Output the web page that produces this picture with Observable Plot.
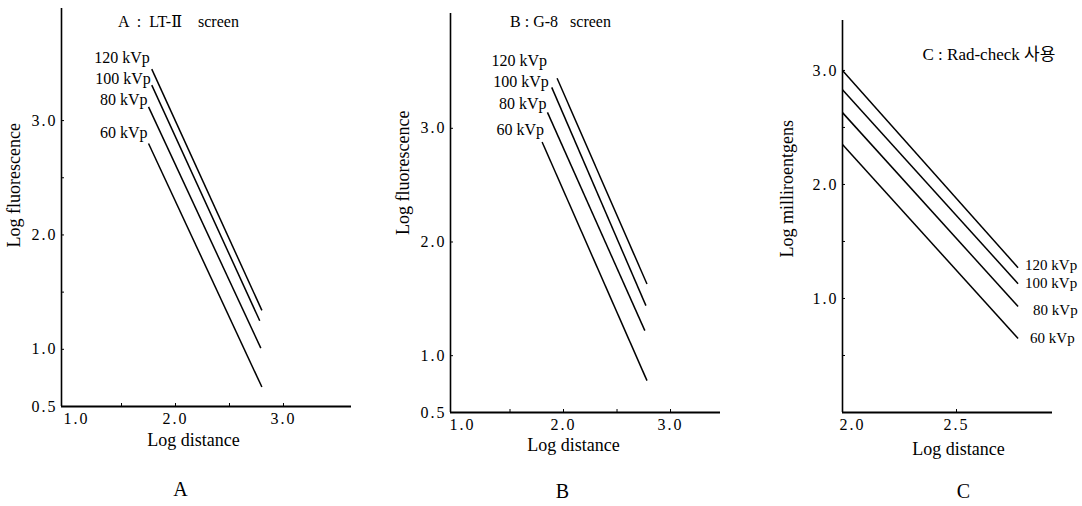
<!DOCTYPE html>
<html>
<head>
<meta charset="utf-8">
<script src="https://cdn.jsdelivr.net/npm/d3@7"></script>
<script src="https://cdn.jsdelivr.net/npm/@observablehq/plot@0.6"></script>
<style>
  html, body { margin: 0; padding: 0; background: #fff; }
  #wrap { position: relative; width: 1082px; height: 506px; overflow: hidden; background: #fff; }
  #wrap svg { position: absolute; top: 0; }
  g[aria-label="y-axis tick label"] text, g[aria-label="x-axis tick label"] text { letter-spacing: 2px; }
</style>
</head>
<body>
<div id="wrap"></div>
<script>
// ---------- data ----------
const kvpLabels = ["120 kVp", "100 kVp", "80 kVp", "60 kVp"];

// Panel A : LT-II screen (log distance vs log fluorescence)
const aStartX = [1.78, 1.78, 1.75, 1.75];
const aStartY = [3.45, 3.31, 3.12, 2.80];
const aEndX   = [2.80, 2.78, 2.79, 2.80];
const aEndY   = [1.34, 1.25, 1.01, 0.67];

// Panel B : G-8 screen
const bStartX = [1.94, 1.89, 1.85, 1.80];
const bStartY = [3.44, 3.36, 3.14, 2.88];
const bEndX   = [2.78, 2.77, 2.76, 2.78];
const bEndY   = [1.63, 1.44, 1.22, 0.78];

// Panel C : Rad-check (log distance vs log milliroentgens)
const cStartX = [2.00, 2.00, 2.00, 2.00];
const cStartY = [3.00, 2.83, 2.63, 2.35];
const cEndX   = [2.77, 2.77, 2.77, 2.77];
const cEndY   = [1.27, 1.13, 0.93, 0.65];

// ticks
const aYTickLabels = [0.5, 1.0, 2.0, 3.0];
const aYTicks = [1.0, 1.5, 2.0, 2.5, 3.0];
const aXTickLabels = [1.0, 2.0, 3.0];
const aXTicks = [1.5, 2.0, 2.5, 3.0];

const bYTickLabels = [0.5, 1.0, 2.0, 3.0];
const bYTicks = [1.0, 2.0, 3.0];
const bXTickLabels = [1.0, 2.0, 3.0];
const bXTicks = [1.5, 2.0, 2.5, 3.0];

const cYTickLabels = [1.0, 2.0, 3.0];
const cYTicks = [0.5, 1.0, 1.5, 2.0, 2.5, 3.0];
const cXTickLabels = [2.0, 2.5];
const cXTicks = [2.5];

const titles = ["A  :  LT-\u2161    screen", "B : G-8   screen", "C : Rad-check \uC0AC\uC6A9"];
const captions = ["A", "B", "C"];
const yLabels = ["Log fluorescence", "Log fluorescence", "Log milliroentgens"];
const xLabel = "Log distance";

// ---------- build ----------
const FONT = "'Liberation Serif', 'DejaVu Serif', 'Noto Sans CJK KR', serif";
const fmt = d3.format(".1f");
function rows(sx, sy, ex, ey) {
  return kvpLabels.map((k, i) => ({k, x1: sx[i], y1: sy[i], x2: ex[i], y2: ey[i]}));
}

function panel(cfg) {
  const data = rows(...cfg.series);
  const first = cfg.xTickLabels.slice(0, 1), rest = cfg.xTickLabels.slice(1);
  const labelMarks = data.map((d, i) => cfg.labelAtEnd
    ? Plot.text([d], {x: "x2", y: "y2", text: "k", textAnchor: "start", dx: cfg.lab[i][0], dy: cfg.lab[i][1], fontSize: cfg.labSize})
    : Plot.text([d], {x: "x1", y: "y1", text: "k", textAnchor: "end", dx: cfg.lab[i][0], dy: cfg.lab[i][1], fontSize: cfg.labSize}));
  const marks = [
    Plot.ruleX([cfg.xDomain[0]], {strokeWidth: 1.6}),
    Plot.ruleY([cfg.yDomain[0]], {strokeWidth: 2.2}),
    Plot.axisY({ticks: cfg.yTicks, tickSize: 3, dx: 3, tickFormat: () => "", label: null}),
    Plot.axisY({ticks: cfg.yTickLabels, tickSize: 0, tickPadding: cfg.yPad, tickFormat: fmt, label: null, fontSize: 16}),
    Plot.axisX({ticks: cfg.xTicks, tickSize: 3, dy: -3, tickFormat: () => "", label: null}),
    Plot.axisX({ticks: first, tickSize: 0, tickPadding: 6, dx: cfg.firstDx, tickFormat: fmt, label: null, fontSize: 16}),
    Plot.axisX({ticks: rest, tickSize: 0, tickPadding: 6, tickFormat: fmt, label: null, fontSize: 16}),
    Plot.link(data, {x1: "x1", y1: "y1", x2: "x2", y2: "y2", stroke: "black", strokeWidth: 1.5}),
    ...labelMarks,
    Plot.text([cfg.title], {frameAnchor: cfg.titleAnchor, textAnchor: cfg.titleTextAnchor, dx: cfg.titleDx, dy: cfg.titleDy, fontSize: cfg.titleSize}),
    Plot.text([xLabel], {frameAnchor: "bottom", dx: cfg.xlDx, dy: cfg.xlDy, fontSize: 18}),
    Plot.text([cfg.yLabel], {frameAnchor: "left", rotate: -90, dx: cfg.ylDx, dy: cfg.ylDy, fontSize: 18}),
    Plot.text([cfg.caption], {frameAnchor: "bottom", dx: cfg.capDx, dy: cfg.capDy, fontSize: 20})
  ];
  const svg = Plot.plot({
    width: cfg.width, height: 506,
    marginLeft: cfg.ml, marginRight: cfg.mr, marginTop: cfg.mt, marginBottom: cfg.mb,
    x: {domain: cfg.xDomain, label: null},
    y: {domain: cfg.yDomain, label: null},
    style: {fontFamily: FONT, fontSize: "16px", color: "black", background: "transparent", overflow: "visible"},
    marks
  });
  svg.style.left = cfg.left + "px";
  document.getElementById("wrap").appendChild(svg);
}

panel({
  left: 0, width: 360, ml: 61, mr: 9, mt: 8, mb: 100,
  xDomain: [0.944, 3.63], yDomain: [0.5, 3.98],
  series: [aStartX, aStartY, aEndX, aEndY],
  yTicks: aYTicks, yTickLabels: aYTickLabels, xTicks: aXTicks, xTickLabels: aXTickLabels, yPad: 4, firstDx: 9,
  lab: [[-2, -11], [-1, -6], [-1, -7], [-1, -11]], labSize: 16,
  title: titles[0], titleAnchor: "top", titleTextAnchor: "middle", titleDx: -28, titleDy: 7, titleSize: 16,
  xlDx: -13, xlDy: 39, yLabel: yLabels[0], ylDx: -47, ylDy: 40,
  caption: captions[0], capDx: -26, capDy: 89, labelAtEnd: false
});

panel({
  left: 360, width: 360, ml: 90, mr: 0, mt: 13, mb: 94,
  xDomain: [0.944, 3.467], yDomain: [0.5, 4.01],
  series: [bStartX, bStartY, bEndX, bEndY],
  yTicks: bYTicks, yTickLabels: bYTickLabels, xTicks: bXTicks, xTickLabels: bXTickLabels, yPad: 4, firstDx: 6,
  lab: [[-10, -17], [-3, -6], [-1, -9], [2, -12]], labSize: 16,
  title: titles[1], titleAnchor: "top", titleTextAnchor: "middle", titleDx: -25, titleDy: 2, titleSize: 16,
  xlDx: -12, xlDy: 38, yLabel: yLabels[1], ylDx: -47, ylDy: 22,
  caption: captions[1], capDx: -23, capDy: 85, labelAtEnd: false
});

panel({
  left: 720, width: 362, ml: 122, mr: 30, mt: 20, mb: 94,
  xDomain: [2.0, 2.921], yDomain: [0, 3.438],
  series: [cStartX, cStartY, cEndX, cEndY],
  yTicks: cYTicks, yTickLabels: cYTickLabels, xTicks: cXTicks, xTickLabels: cXTickLabels, yPad: 4, firstDx: 10,
  lab: [[7, -3], [7, 0], [15, 4], [12, 0]], labSize: 15,
  title: titles[2], titleAnchor: "top-left", titleTextAnchor: "start", titleDx: 80, titleDy: 27, titleSize: 17,
  xlDx: 11, xlDy: 42, yLabel: yLabels[2], ylDx: -55, ylDy: 41,
  caption: captions[2], capDx: 16, capDy: 85, labelAtEnd: true
});
</script>
</body>
</html>
